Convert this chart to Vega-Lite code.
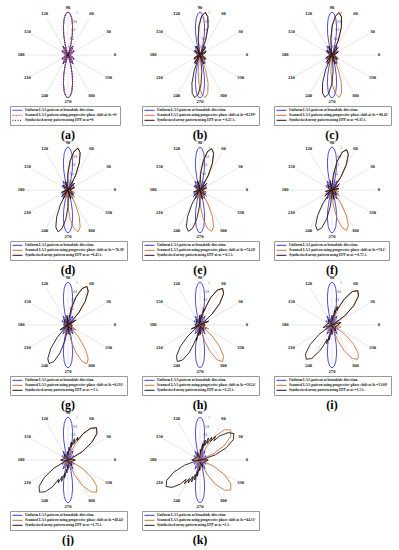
{
"$schema":"https://vega.github.io/schema/vega-lite/v6.json",
"padding":{"left":9,"top":5,"right":0,"bottom":0},
"background":"white",
"columns":3,
"spacing":{"row":-2,"column":13},
"datasets":{
"rings":[{"x":0,"y":0,"r":0.2},{"x":0,"y":0,"r":0.4},{"x":0,"y":0,"r":0.6},{"x":0,"y":0,"r":0.8},{"x":0,"y":0,"r":1}],
"spokes":[{"x":-1,"y":0,"x2":1,"y2":0},{"x":-0.866,"y":-0.5,"x2":0.866,"y2":0.5},{"x":-0.5,"y":-0.866,"x2":0.5,"y2":0.866},{"x":0,"y":-1,"x2":0,"y2":1},{"x":0.5,"y":-0.866,"x2":-0.5,"y2":0.866},{"x":0.866,"y":-0.5,"x2":-0.866,"y2":0.5}],
"angl":[{"t":"0","x":1.09,"y":0},{"t":"30","x":0.944,"y":0.545},{"t":"60","x":0.545,"y":0.944},{"t":"90","x":0,"y":1.09},{"t":"120","x":-0.545,"y":0.944},{"t":"150","x":-0.944,"y":0.545},{"t":"180","x":-1.09,"y":0},{"t":"210","x":-0.944,"y":-0.545},{"t":"240","x":-0.545,"y":-0.944},{"t":"270","x":0,"y":-1.09},{"t":"300","x":0.545,"y":-0.944},{"t":"330","x":0.944,"y":-0.545}],
"rlab":[{"t":"1","x":0.21,"y":0.98},{"t":"0.8","x":0.166,"y":0.782},{"t":"0.6","x":0.125,"y":0.587},{"t":"0.4","x":0.083,"y":0.39},{"t":"0.2","x":0.042,"y":0.196}]
},
"concat":[
{"width":98,"height":98,"title":"(a)",
"encoding":{"x":{"field":"x","type":"quantitative","scale":{"domain":[-1.14,1.14],"nice":false,"zero":false},"axis":null},"y":{"field":"y","type":"quantitative","scale":{"domain":[-1.14,1.14],"nice":false,"zero":false},"axis":null}},
"layer":[
{"data":{"name":"rings"},"mark":{"type":"arc","filled":false,"stroke":"#d6d6d6","strokeWidth":0.6,"theta":0,"theta2":6.2832},"encoding":{"radius":{"field":"r","type":"quantitative","scale":{"type":"linear","domain":[0,1.14],"nice":false,"zero":true}}}},
{"data":{"name":"spokes"},"mark":{"type":"rule","stroke":"#d6d6d6","strokeWidth":0.6},"encoding":{"x2":{"field":"x2"},"y2":{"field":"y2"}}},
{"data":{"name":"rlab"},"mark":{"type":"text","font":"Liberation Serif","fontSize":3,"color":"#333"},"encoding":{"text":{"field":"t"}}},
{"data":{"name":"angl"},"mark":{"type":"text","font":"Liberation Serif","fontSize":4.6,"fontWeight":"bold","color":"#111"},"encoding":{"text":{"field":"t"}}},
{"data":{"values":[
{"s":"Uniform LAA pattern at broadside direction.","a":[0,10,20,30,35,40,48,55,61,66,70.5,72,75,78,81,84,87,90,93,96,99,102,105,108,109.5,114,119,125,132,140,145,150,160,170,180,190,200,210,215,220,228,235,241,246,250.5,252,255,258,261,264,267,270,273,276,279,282,285,288,289.5,294,299,305,312,320,325,330,340,350,360],"r":[0,0.02,0.09,0.16,0.17,0.14,0,0.16,0.24,0.18,0,0.08,0.27,0.48,0.68,0.85,0.96,1,0.96,0.85,0.68,0.48,0.27,0.08,0,0.18,0.24,0.16,0,0.14,0.17,0.16,0.09,0.02,0,0.02,0.09,0.16,0.17,0.14,0,0.16,0.24,0.18,0,0.08,0.27,0.48,0.68,0.85,0.96,1,0.96,0.85,0.68,0.48,0.27,0.08,0,0.18,0.24,0.16,0,0.14,0.17,0.16,0.09,0.02,0]},
{"s":"Scanned LAA pattern using progressive phase shift at θs =0°","a":[0,10,20,30,35,40,48,55,61,66,70.5,72,75,78,81,84,87,90,93,96,99,102,105,108,109.5,114,119,125,132,140,145,150,160,170,180,190,200,210,215,220,228,235,241,246,250.5,252,255,258,261,264,267,270,273,276,279,282,285,288,289.5,294,299,305,312,320,325,330,340,350,360],"r":[0,0.02,0.09,0.16,0.17,0.14,0,0.16,0.24,0.18,0,0.08,0.27,0.48,0.68,0.85,0.96,1,0.96,0.85,0.68,0.48,0.27,0.08,0,0.18,0.24,0.16,0,0.14,0.17,0.16,0.09,0.02,0,0.02,0.09,0.16,0.17,0.14,0,0.16,0.24,0.18,0,0.08,0.27,0.48,0.68,0.85,0.96,1,0.96,0.85,0.68,0.48,0.27,0.08,0,0.18,0.24,0.16,0,0.14,0.17,0.16,0.09,0.02,0]},
{"s":"Synthesized array pattern using EPP at xs=0","a":[0,10,20,30,35,40,48,55,61,66,70.5,72,75,78,81,84,87,90,93,96,99,102,105,108,109.5,114,119,125,132,140,145,150,160,170,180,190,200,210,215,220,228,235,241,246,250.5,252,255,258,261,264,267,270,273,276,279,282,285,288,289.5,294,299,305,312,320,325,330,340,350,360],"r":[0,0.02,0.09,0.16,0.17,0.14,0,0.16,0.24,0.18,0,0.08,0.27,0.48,0.68,0.85,0.96,1,0.96,0.85,0.68,0.48,0.27,0.08,0,0.18,0.24,0.16,0,0.14,0.17,0.16,0.09,0.02,0,0.02,0.09,0.16,0.17,0.14,0,0.16,0.24,0.18,0,0.08,0.27,0.48,0.68,0.85,0.96,1,0.96,0.85,0.68,0.48,0.27,0.08,0,0.18,0.24,0.16,0,0.14,0.17,0.16,0.09,0.02,0]}
]},
"transform":[{"flatten":["a","r"]},{"calculate":"datum.r*cos(datum.a*PI/180)","as":"x"},{"calculate":"datum.r*sin(datum.a*PI/180)","as":"y"}],
"mark":{"type":"line","strokeWidth":0.9},
"encoding":{"order":{"field":"a","type":"quantitative"},
"color":{"field":"s","type":"nominal","scale":{"domain":["Uniform LAA pattern at broadside direction.","Scanned LAA pattern using progressive phase shift at θs =0°","Synthesized array pattern using EPP at xs=0"],"range":["#3838e0","#d0507a","#2a1414"]},"legend":{"title":null}},
"strokeDash":{"field":"s","type":"nominal","scale":{"domain":["Uniform LAA pattern at broadside direction.","Scanned LAA pattern using progressive phase shift at θs =0°","Synthesized array pattern using EPP at xs=0"],"range":[[1,0],[2,1],[1,1.5]]},"legend":{"title":null}}}}
]},
{"width":98,"height":98,"title":"(b)",
"encoding":{"x":{"field":"x","type":"quantitative","scale":{"domain":[-1.14,1.14],"nice":false,"zero":false},"axis":null},"y":{"field":"y","type":"quantitative","scale":{"domain":[-1.14,1.14],"nice":false,"zero":false},"axis":null}},
"layer":[
{"data":{"name":"rings"},"mark":{"type":"arc","filled":false,"stroke":"#d6d6d6","strokeWidth":0.6,"theta":0,"theta2":6.2832},"encoding":{"radius":{"field":"r","type":"quantitative","scale":{"type":"linear","domain":[0,1.14],"nice":false,"zero":true}}}},
{"data":{"name":"spokes"},"mark":{"type":"rule","stroke":"#d6d6d6","strokeWidth":0.6},"encoding":{"x2":{"field":"x2"},"y2":{"field":"y2"}}},
{"data":{"name":"rlab"},"mark":{"type":"text","font":"Liberation Serif","fontSize":3,"color":"#333"},"encoding":{"text":{"field":"t"}}},
{"data":{"name":"angl"},"mark":{"type":"text","font":"Liberation Serif","fontSize":4.6,"fontWeight":"bold","color":"#111"},"encoding":{"text":{"field":"t"}}},
{"data":{"values":[
{"s":"Uniform LAA pattern at broadside direction.","a":[0,10,20,30,35,40,48,55,61,66,70.5,72,75,78,81,84,87,90,93,96,99,102,105,108,109.5,114,119,125,132,140,145,150,160,170,180,190,200,210,215,220,228,235,241,246,250.5,252,255,258,261,264,267,270,273,276,279,282,285,288,289.5,294,299,305,312,320,325,330,340,350,360],"r":[0,0.02,0.09,0.16,0.17,0.14,0,0.16,0.24,0.18,0,0.08,0.27,0.48,0.68,0.85,0.96,1,0.96,0.85,0.68,0.48,0.27,0.08,0,0.18,0.24,0.16,0,0.14,0.17,0.16,0.09,0.02,0,0.02,0.09,0.16,0.17,0.14,0,0.16,0.24,0.18,0,0.08,0.27,0.48,0.68,0.85,0.96,1,0.96,0.85,0.68,0.48,0.27,0.08,0,0.18,0.24,0.16,0,0.14,0.17,0.16,0.09,0.02,0]},
{"s":"Scanned LAA pattern using progressive phase shift at θs =82.99°","a":[0,10,28,42,54,63.5,65,69.5,74,78.5,83,87.5,92,96.5,101,102.5,112,124,138,160,180,200,222,236,248,257.5,259,263.5,268,272.5,277,281.5,286,290.5,295,296.5,306,318,332,350,360],"r":[0.04,0.06,0.16,0.02,0.22,0,0.08,0.38,0.68,0.91,1,0.91,0.68,0.38,0.08,0,0.22,0.02,0.16,0.08,0.04,0.08,0.16,0.02,0.22,0,0.08,0.38,0.68,0.91,1,0.91,0.68,0.38,0.08,0,0.22,0.02,0.16,0.06,0.04]},
{"s":"Synthesized array pattern using EPP at xs = 0.25 λ.","a":[0,10,28,42,54,63.5,65,69.5,74,78.5,83,87.5,92,96.5,101,102.5,112,124,138,160,180,190,208,222,234,243.5,245,249.5,254,258.5,263,267.5,272,276.5,281,282.5,292,304,318,340,360],"r":[0.04,0.06,0.16,0.02,0.22,0,0.08,0.38,0.68,0.91,1,0.91,0.68,0.38,0.08,0,0.22,0.02,0.16,0.08,0.04,0.06,0.16,0.02,0.22,0,0.08,0.38,0.68,0.91,1,0.91,0.68,0.38,0.08,0,0.22,0.02,0.16,0.08,0.04]}
]},
"transform":[{"flatten":["a","r"]},{"calculate":"datum.r*cos(datum.a*PI/180)","as":"x"},{"calculate":"datum.r*sin(datum.a*PI/180)","as":"y"}],
"mark":{"type":"line","strokeWidth":0.9},
"encoding":{"order":{"field":"a","type":"quantitative"},
"color":{"field":"s","type":"nominal","scale":{"domain":["Uniform LAA pattern at broadside direction.","Scanned LAA pattern using progressive phase shift at θs =82.99°","Synthesized array pattern using EPP at xs = 0.25 λ."],"range":["#3838e0","#c8743c","#2a1414"]},"legend":{"title":null}}}}
]},
{"width":98,"height":98,"title":"(c)",
"encoding":{"x":{"field":"x","type":"quantitative","scale":{"domain":[-1.14,1.14],"nice":false,"zero":false},"axis":null},"y":{"field":"y","type":"quantitative","scale":{"domain":[-1.14,1.14],"nice":false,"zero":false},"axis":null}},
"layer":[
{"data":{"name":"rings"},"mark":{"type":"arc","filled":false,"stroke":"#d6d6d6","strokeWidth":0.6,"theta":0,"theta2":6.2832},"encoding":{"radius":{"field":"r","type":"quantitative","scale":{"type":"linear","domain":[0,1.14],"nice":false,"zero":true}}}},
{"data":{"name":"spokes"},"mark":{"type":"rule","stroke":"#d6d6d6","strokeWidth":0.6},"encoding":{"x2":{"field":"x2"},"y2":{"field":"y2"}}},
{"data":{"name":"rlab"},"mark":{"type":"text","font":"Liberation Serif","fontSize":3,"color":"#333"},"encoding":{"text":{"field":"t"}}},
{"data":{"name":"angl"},"mark":{"type":"text","font":"Liberation Serif","fontSize":4.6,"fontWeight":"bold","color":"#111"},"encoding":{"text":{"field":"t"}}},
{"data":{"values":[
{"s":"Uniform LAA pattern at broadside direction.","a":[0,10,20,30,35,40,48,55,61,66,70.5,72,75,78,81,84,87,90,93,96,99,102,105,108,109.5,114,119,125,132,140,145,150,160,170,180,190,200,210,215,220,228,235,241,246,250.5,252,255,258,261,264,267,270,273,276,279,282,285,288,289.5,294,299,305,312,320,325,330,340,350,360],"r":[0,0.02,0.09,0.16,0.17,0.14,0,0.16,0.24,0.18,0,0.08,0.27,0.48,0.68,0.85,0.96,1,0.96,0.85,0.68,0.48,0.27,0.08,0,0.18,0.24,0.16,0,0.14,0.17,0.16,0.09,0.02,0,0.02,0.09,0.16,0.17,0.14,0,0.16,0.24,0.18,0,0.08,0.27,0.48,0.68,0.85,0.96,1,0.96,0.85,0.68,0.48,0.27,0.08,0,0.18,0.24,0.16,0,0.14,0.17,0.16,0.09,0.02,0]},
{"s":"Scanned LAA pattern using progressive phase shift at θs = 80.41°","a":[0,8,24.8,39,51.1,60.7,62.2,66.8,71.3,75.9,80.4,84.9,89.5,94,98.6,100.1,109.7,121.8,136,160,180,200,224,238.2,250.3,259.9,261.4,266,270.5,275.1,279.6,284.1,288.7,293.2,297.8,299.3,308.9,321,335.2,352,360],"r":[0.04,0.06,0.16,0.02,0.22,0,0.08,0.38,0.68,0.91,1,0.91,0.68,0.38,0.08,0,0.22,0.02,0.16,0.08,0.04,0.08,0.16,0.02,0.22,0,0.08,0.38,0.68,0.91,1,0.91,0.68,0.38,0.08,0,0.22,0.02,0.16,0.06,0.04]},
{"s":"Synthesized array pattern using EPP at xs =0.35 λ.","a":[0,8,24.8,39,51.1,60.7,62.2,66.8,71.3,75.9,80.4,84.9,89.5,94,98.6,100.1,109.7,121.8,136,160,180,188,204.8,219,231.1,240.7,242.2,246.8,251.3,255.9,260.4,264.9,269.5,274,278.6,280.1,289.7,301.8,316,340,360],"r":[0.04,0.06,0.16,0.02,0.22,0,0.08,0.38,0.68,0.91,1,0.91,0.68,0.38,0.08,0,0.22,0.02,0.16,0.08,0.04,0.06,0.16,0.02,0.22,0,0.08,0.38,0.68,0.91,1,0.91,0.68,0.38,0.08,0,0.22,0.02,0.16,0.08,0.04]}
]},
"transform":[{"flatten":["a","r"]},{"calculate":"datum.r*cos(datum.a*PI/180)","as":"x"},{"calculate":"datum.r*sin(datum.a*PI/180)","as":"y"}],
"mark":{"type":"line","strokeWidth":0.9},
"encoding":{"order":{"field":"a","type":"quantitative"},
"color":{"field":"s","type":"nominal","scale":{"domain":["Uniform LAA pattern at broadside direction.","Scanned LAA pattern using progressive phase shift at θs = 80.41°","Synthesized array pattern using EPP at xs =0.35 λ."],"range":["#3838e0","#c8743c","#2a1414"]},"legend":{"title":null}}}}
]},
{"width":98,"height":98,"title":"(d)",
"encoding":{"x":{"field":"x","type":"quantitative","scale":{"domain":[-1.14,1.14],"nice":false,"zero":false},"axis":null},"y":{"field":"y","type":"quantitative","scale":{"domain":[-1.14,1.14],"nice":false,"zero":false},"axis":null}},
"layer":[
{"data":{"name":"rings"},"mark":{"type":"arc","filled":false,"stroke":"#d6d6d6","strokeWidth":0.6,"theta":0,"theta2":6.2832},"encoding":{"radius":{"field":"r","type":"quantitative","scale":{"type":"linear","domain":[0,1.14],"nice":false,"zero":true}}}},
{"data":{"name":"spokes"},"mark":{"type":"rule","stroke":"#d6d6d6","strokeWidth":0.6},"encoding":{"x2":{"field":"x2"},"y2":{"field":"y2"}}},
{"data":{"name":"rlab"},"mark":{"type":"text","font":"Liberation Serif","fontSize":3,"color":"#333"},"encoding":{"text":{"field":"t"}}},
{"data":{"name":"angl"},"mark":{"type":"text","font":"Liberation Serif","fontSize":4.6,"fontWeight":"bold","color":"#111"},"encoding":{"text":{"field":"t"}}},
{"data":{"values":[
{"s":"Uniform LAA pattern at broadside direction.","a":[0,10,20,30,35,40,48,55,61,66,70.5,72,75,78,81,84,87,90,93,96,99,102,105,108,109.5,114,119,125,132,140,145,150,160,170,180,190,200,210,215,220,228,235,241,246,250.5,252,255,258,261,264,267,270,273,276,279,282,285,288,289.5,294,299,305,312,320,325,330,340,350,360],"r":[0,0.02,0.09,0.16,0.17,0.14,0,0.16,0.24,0.18,0,0.08,0.27,0.48,0.68,0.85,0.96,1,0.96,0.85,0.68,0.48,0.27,0.08,0,0.18,0.24,0.16,0,0.14,0.17,0.16,0.09,0.02,0,0.02,0.09,0.16,0.17,0.14,0,0.16,0.24,0.18,0,0.08,0.27,0.48,0.68,0.85,0.96,1,0.96,0.85,0.68,0.48,0.27,0.08,0,0.18,0.24,0.16,0,0.14,0.17,0.16,0.09,0.02,0]},
{"s":"Scanned LAA pattern using progressive phase shift at θs = 76.38°","a":[0,6,19.8,34.3,46.6,56.4,58,62.6,67.2,71.9,76.5,81.1,85.8,90.4,95,96.6,106.4,118.7,133.2,160,180,200,226.8,241.3,253.6,263.4,265,269.6,274.2,278.9,283.5,288.1,292.8,297.4,302,303.6,313.4,325.7,340.2,354,360],"r":[0.04,0.06,0.16,0.02,0.22,0,0.08,0.38,0.68,0.91,1,0.91,0.68,0.38,0.08,0,0.22,0.02,0.16,0.08,0.04,0.08,0.16,0.02,0.22,0,0.08,0.38,0.68,0.91,1,0.91,0.68,0.38,0.08,0,0.22,0.02,0.16,0.06,0.04]},
{"s":"Synthesized array pattern using EPP at xs =0.45 λ.","a":[0,6,19.8,34.3,46.6,56.4,58,62.6,67.2,71.9,76.5,81.1,85.8,90.4,95,96.6,106.4,118.7,133.2,160,180,186,199.8,214.3,226.6,236.4,238,242.6,247.2,251.9,256.5,261.1,265.8,270.4,275,276.6,286.4,298.7,313.2,340,360],"r":[0.04,0.06,0.16,0.02,0.22,0,0.08,0.38,0.68,0.91,1,0.91,0.68,0.38,0.08,0,0.22,0.02,0.16,0.08,0.04,0.06,0.16,0.02,0.22,0,0.08,0.38,0.68,0.91,1,0.91,0.68,0.38,0.08,0,0.22,0.02,0.16,0.08,0.04]}
]},
"transform":[{"flatten":["a","r"]},{"calculate":"datum.r*cos(datum.a*PI/180)","as":"x"},{"calculate":"datum.r*sin(datum.a*PI/180)","as":"y"}],
"mark":{"type":"line","strokeWidth":0.9},
"encoding":{"order":{"field":"a","type":"quantitative"},
"color":{"field":"s","type":"nominal","scale":{"domain":["Uniform LAA pattern at broadside direction.","Scanned LAA pattern using progressive phase shift at θs = 76.38°","Synthesized array pattern using EPP at xs =0.45 λ."],"range":["#3838e0","#c8743c","#2a1414"]},"legend":{"title":null}}}}
]},
{"width":98,"height":98,"title":"(e)",
"encoding":{"x":{"field":"x","type":"quantitative","scale":{"domain":[-1.14,1.14],"nice":false,"zero":false},"axis":null},"y":{"field":"y","type":"quantitative","scale":{"domain":[-1.14,1.14],"nice":false,"zero":false},"axis":null}},
"layer":[
{"data":{"name":"rings"},"mark":{"type":"arc","filled":false,"stroke":"#d6d6d6","strokeWidth":0.6,"theta":0,"theta2":6.2832},"encoding":{"radius":{"field":"r","type":"quantitative","scale":{"type":"linear","domain":[0,1.14],"nice":false,"zero":true}}}},
{"data":{"name":"spokes"},"mark":{"type":"rule","stroke":"#d6d6d6","strokeWidth":0.6},"encoding":{"x2":{"field":"x2"},"y2":{"field":"y2"}}},
{"data":{"name":"rlab"},"mark":{"type":"text","font":"Liberation Serif","fontSize":3,"color":"#333"},"encoding":{"text":{"field":"t"}}},
{"data":{"name":"angl"},"mark":{"type":"text","font":"Liberation Serif","fontSize":4.6,"fontWeight":"bold","color":"#111"},"encoding":{"text":{"field":"t"}}},
{"data":{"values":[
{"s":"Uniform LAA pattern at broadside direction.","a":[0,10,20,30,35,40,48,55,61,66,70.5,72,75,78,81,84,87,90,93,96,99,102,105,108,109.5,114,119,125,132,140,145,150,160,170,180,190,200,210,215,220,228,235,241,246,250.5,252,255,258,261,264,267,270,273,276,279,282,285,288,289.5,294,299,305,312,320,325,330,340,350,360],"r":[0,0.02,0.09,0.16,0.17,0.14,0,0.16,0.24,0.18,0,0.08,0.27,0.48,0.68,0.85,0.96,1,0.96,0.85,0.68,0.48,0.27,0.08,0,0.18,0.24,0.16,0,0.14,0.17,0.16,0.09,0.02,0,0.02,0.09,0.16,0.17,0.14,0,0.16,0.24,0.18,0,0.08,0.27,0.48,0.68,0.85,0.96,1,0.96,0.85,0.68,0.48,0.27,0.08,0,0.18,0.24,0.16,0,0.14,0.17,0.16,0.09,0.02,0]},
{"s":"Scanned LAA pattern using progressive phase shift at θs =74.28°","a":[0,5,17.1,31.7,44.1,54,55.6,60.3,64.9,69.6,74.3,79,83.7,88.3,93,94.6,104.5,116.9,131.5,160,180,200,228.5,243.1,255.5,265.4,267,271.7,276.3,281,285.7,290.4,295.1,299.7,304.4,306,315.9,328.3,342.9,355,360],"r":[0.04,0.06,0.16,0.02,0.22,0,0.08,0.38,0.68,0.91,1,0.91,0.68,0.38,0.08,0,0.22,0.02,0.16,0.08,0.04,0.08,0.16,0.02,0.22,0,0.08,0.38,0.68,0.91,1,0.91,0.68,0.38,0.08,0,0.22,0.02,0.16,0.06,0.04]},
{"s":"Synthesized array pattern using EPP at xs = 0.5 λ.","a":[0,5,17.1,31.7,44.1,54,55.6,60.3,64.9,69.6,74.3,79,83.7,88.3,93,94.6,104.5,116.9,131.5,160,180,185,197.1,211.7,224.1,234,235.6,240.3,244.9,249.6,254.3,259,263.7,268.3,273,274.6,284.5,296.9,311.5,340,360],"r":[0.04,0.06,0.16,0.02,0.22,0,0.08,0.38,0.68,0.91,1,0.91,0.68,0.38,0.08,0,0.22,0.02,0.16,0.08,0.04,0.06,0.16,0.02,0.22,0,0.08,0.38,0.68,0.91,1,0.91,0.68,0.38,0.08,0,0.22,0.02,0.16,0.08,0.04]}
]},
"transform":[{"flatten":["a","r"]},{"calculate":"datum.r*cos(datum.a*PI/180)","as":"x"},{"calculate":"datum.r*sin(datum.a*PI/180)","as":"y"}],
"mark":{"type":"line","strokeWidth":0.9},
"encoding":{"order":{"field":"a","type":"quantitative"},
"color":{"field":"s","type":"nominal","scale":{"domain":["Uniform LAA pattern at broadside direction.","Scanned LAA pattern using progressive phase shift at θs =74.28°","Synthesized array pattern using EPP at xs = 0.5 λ."],"range":["#3838e0","#c8743c","#2a1414"]},"legend":{"title":null}}}}
]},
{"width":98,"height":98,"title":"(f)",
"encoding":{"x":{"field":"x","type":"quantitative","scale":{"domain":[-1.14,1.14],"nice":false,"zero":false},"axis":null},"y":{"field":"y","type":"quantitative","scale":{"domain":[-1.14,1.14],"nice":false,"zero":false},"axis":null}},
"layer":[
{"data":{"name":"rings"},"mark":{"type":"arc","filled":false,"stroke":"#d6d6d6","strokeWidth":0.6,"theta":0,"theta2":6.2832},"encoding":{"radius":{"field":"r","type":"quantitative","scale":{"type":"linear","domain":[0,1.14],"nice":false,"zero":true}}}},
{"data":{"name":"spokes"},"mark":{"type":"rule","stroke":"#d6d6d6","strokeWidth":0.6},"encoding":{"x2":{"field":"x2"},"y2":{"field":"y2"}}},
{"data":{"name":"rlab"},"mark":{"type":"text","font":"Liberation Serif","fontSize":3,"color":"#333"},"encoding":{"text":{"field":"t"}}},
{"data":{"name":"angl"},"mark":{"type":"text","font":"Liberation Serif","fontSize":4.6,"fontWeight":"bold","color":"#111"},"encoding":{"text":{"field":"t"}}},
{"data":{"values":[
{"s":"Uniform LAA pattern at broadside direction.","a":[0,10,20,30,35,40,48,55,61,66,70.5,72,75,78,81,84,87,90,93,96,99,102,105,108,109.5,114,119,125,132,140,145,150,160,170,180,190,200,210,215,220,228,235,241,246,250.5,252,255,258,261,264,267,270,273,276,279,282,285,288,289.5,294,299,305,312,320,325,330,340,350,360],"r":[0,0.02,0.09,0.16,0.17,0.14,0,0.16,0.24,0.18,0,0.08,0.27,0.48,0.68,0.85,0.96,1,0.96,0.85,0.68,0.48,0.27,0.08,0,0.18,0.24,0.16,0,0.14,0.17,0.16,0.09,0.02,0,0.02,0.09,0.16,0.17,0.14,0,0.16,0.24,0.18,0,0.08,0.27,0.48,0.68,0.85,0.96,1,0.96,0.85,0.68,0.48,0.27,0.08,0,0.18,0.24,0.16,0,0.14,0.17,0.16,0.09,0.02,0]},
{"s":"Scanned LAA pattern using progressive phase shift at θs =70.1°","a":[0,11.8,26.6,39.4,49.4,51,55.8,60.6,65.3,70.1,74.9,79.6,84.4,89.2,90.8,100.8,113.6,128.4,155,180,205,231.6,246.4,259.2,269.2,270.8,275.6,280.4,285.1,289.9,294.7,299.4,304.2,309,310.6,320.6,333.4,348.2,360],"r":[0.04,0.16,0.02,0.22,0,0.08,0.38,0.68,0.91,1,0.91,0.68,0.38,0.08,0,0.22,0.02,0.16,0.08,0.04,0.08,0.16,0.02,0.22,0,0.08,0.38,0.68,0.91,1,0.91,0.68,0.38,0.08,0,0.22,0.02,0.16,0.04]},
{"s":"Synthesized array pattern using EPP at xs = 0.75 λ.","a":[0,11.8,26.6,39.4,49.4,51,55.8,60.6,65.3,70.1,74.9,79.6,84.4,89.2,90.8,100.8,113.6,128.4,155,180,191.8,206.6,219.4,229.4,231,235.8,240.6,245.3,250.1,254.9,259.6,264.4,269.2,270.8,280.8,293.6,308.4,335,360],"r":[0.04,0.16,0.02,0.22,0,0.08,0.38,0.68,0.91,1,0.91,0.68,0.38,0.08,0,0.22,0.02,0.16,0.08,0.04,0.16,0.02,0.22,0,0.08,0.38,0.68,0.91,1,0.91,0.68,0.38,0.08,0,0.22,0.02,0.16,0.08,0.04]}
]},
"transform":[{"flatten":["a","r"]},{"calculate":"datum.r*cos(datum.a*PI/180)","as":"x"},{"calculate":"datum.r*sin(datum.a*PI/180)","as":"y"}],
"mark":{"type":"line","strokeWidth":0.9},
"encoding":{"order":{"field":"a","type":"quantitative"},
"color":{"field":"s","type":"nominal","scale":{"domain":["Uniform LAA pattern at broadside direction.","Scanned LAA pattern using progressive phase shift at θs =70.1°","Synthesized array pattern using EPP at xs = 0.75 λ."],"range":["#3838e0","#c8743c","#2a1414"]},"legend":{"title":null}}}}
]},
{"width":98,"height":98,"title":"(g)",
"encoding":{"x":{"field":"x","type":"quantitative","scale":{"domain":[-1.14,1.14],"nice":false,"zero":false},"axis":null},"y":{"field":"y","type":"quantitative","scale":{"domain":[-1.14,1.14],"nice":false,"zero":false},"axis":null}},
"layer":[
{"data":{"name":"rings"},"mark":{"type":"arc","filled":false,"stroke":"#d6d6d6","strokeWidth":0.6,"theta":0,"theta2":6.2832},"encoding":{"radius":{"field":"r","type":"quantitative","scale":{"type":"linear","domain":[0,1.14],"nice":false,"zero":true}}}},
{"data":{"name":"spokes"},"mark":{"type":"rule","stroke":"#d6d6d6","strokeWidth":0.6},"encoding":{"x2":{"field":"x2"},"y2":{"field":"y2"}}},
{"data":{"name":"rlab"},"mark":{"type":"text","font":"Liberation Serif","fontSize":3,"color":"#333"},"encoding":{"text":{"field":"t"}}},
{"data":{"name":"angl"},"mark":{"type":"text","font":"Liberation Serif","fontSize":4.6,"fontWeight":"bold","color":"#111"},"encoding":{"text":{"field":"t"}}},
{"data":{"values":[
{"s":"Uniform LAA pattern at broadside direction.","a":[0,10,20,30,35,40,48,55,61,66,70.5,72,75,78,81,84,87,90,93,96,99,102,105,108,109.5,114,119,125,132,140,145,150,160,170,180,190,200,210,215,220,228,235,241,246,250.5,252,255,258,261,264,267,270,273,276,279,282,285,288,289.5,294,299,305,312,320,325,330,340,350,360],"r":[0,0.02,0.09,0.16,0.17,0.14,0,0.16,0.24,0.18,0,0.08,0.27,0.48,0.68,0.85,0.96,1,0.96,0.85,0.68,0.48,0.27,0.08,0,0.18,0.24,0.16,0,0.14,0.17,0.16,0.09,0.02,0,0.02,0.09,0.16,0.17,0.14,0,0.16,0.24,0.18,0,0.08,0.27,0.48,0.68,0.85,0.96,1,0.96,0.85,0.68,0.48,0.27,0.08,0,0.18,0.24,0.16,0,0.14,0.17,0.16,0.09,0.02,0]},
{"s":"Scanned LAA pattern using progressive phase shift at θs =63.91°","a":[0,18.4,31.7,42.3,43.9,48.9,53.9,58.9,63.9,68.9,73.9,78.9,83.9,85.5,96.1,109.4,124.9,150,180,210,235.1,250.6,263.9,274.5,276.1,281.1,286.1,291.1,296.1,301.1,306.1,311.1,316.1,317.7,328.3,341.6,360],"r":[0.1,0.02,0.22,0,0.08,0.38,0.68,0.91,1,0.91,0.68,0.38,0.08,0,0.22,0.02,0.16,0.08,0.1,0.08,0.16,0.02,0.22,0,0.08,0.38,0.68,0.91,1,0.91,0.68,0.38,0.08,0,0.22,0.02,0.1]},
{"s":"Synthesized array pattern using EPP at xs = 1 λ.","a":[0,18.4,31.7,42.3,43.9,48.9,53.9,58.9,63.9,68.9,73.9,78.9,83.9,85.5,96.1,109.4,124.9,150,180,198.4,211.7,222.3,223.9,228.9,233.9,238.9,243.9,248.9,253.9,258.9,263.9,265.5,276.1,289.4,304.9,330,360],"r":[0.1,0.02,0.22,0,0.08,0.38,0.68,0.91,1,0.91,0.68,0.38,0.08,0,0.22,0.02,0.16,0.08,0.1,0.02,0.22,0,0.08,0.38,0.68,0.91,1,0.91,0.68,0.38,0.08,0,0.22,0.02,0.16,0.08,0.1]}
]},
"transform":[{"flatten":["a","r"]},{"calculate":"datum.r*cos(datum.a*PI/180)","as":"x"},{"calculate":"datum.r*sin(datum.a*PI/180)","as":"y"}],
"mark":{"type":"line","strokeWidth":0.9},
"encoding":{"order":{"field":"a","type":"quantitative"},
"color":{"field":"s","type":"nominal","scale":{"domain":["Uniform LAA pattern at broadside direction.","Scanned LAA pattern using progressive phase shift at θs =63.91°","Synthesized array pattern using EPP at xs = 1 λ."],"range":["#3838e0","#c8743c","#2a1414"]},"legend":{"title":null}}}}
]},
{"width":98,"height":98,"title":"(h)",
"encoding":{"x":{"field":"x","type":"quantitative","scale":{"domain":[-1.14,1.14],"nice":false,"zero":false},"axis":null},"y":{"field":"y","type":"quantitative","scale":{"domain":[-1.14,1.14],"nice":false,"zero":false},"axis":null}},
"layer":[
{"data":{"name":"rings"},"mark":{"type":"arc","filled":false,"stroke":"#d6d6d6","strokeWidth":0.6,"theta":0,"theta2":6.2832},"encoding":{"radius":{"field":"r","type":"quantitative","scale":{"type":"linear","domain":[0,1.14],"nice":false,"zero":true}}}},
{"data":{"name":"spokes"},"mark":{"type":"rule","stroke":"#d6d6d6","strokeWidth":0.6},"encoding":{"x2":{"field":"x2"},"y2":{"field":"y2"}}},
{"data":{"name":"rlab"},"mark":{"type":"text","font":"Liberation Serif","fontSize":3,"color":"#333"},"encoding":{"text":{"field":"t"}}},
{"data":{"name":"angl"},"mark":{"type":"text","font":"Liberation Serif","fontSize":4.6,"fontWeight":"bold","color":"#111"},"encoding":{"text":{"field":"t"}}},
{"data":{"values":[
{"s":"Uniform LAA pattern at broadside direction.","a":[0,10,20,30,35,40,48,55,61,66,70.5,72,75,78,81,84,87,90,93,96,99,102,105,108,109.5,114,119,125,132,140,145,150,160,170,180,190,200,210,215,220,228,235,241,246,250.5,252,255,258,261,264,267,270,273,276,279,282,285,288,289.5,294,299,305,312,320,325,330,340,350,360],"r":[0,0.02,0.09,0.16,0.17,0.14,0,0.16,0.24,0.18,0,0.08,0.27,0.48,0.68,0.85,0.96,1,0.96,0.85,0.68,0.48,0.27,0.08,0,0.18,0.24,0.16,0,0.14,0.17,0.16,0.09,0.02,0,0.02,0.09,0.16,0.17,0.14,0,0.16,0.24,0.18,0,0.08,0.27,0.48,0.68,0.85,0.96,1,0.96,0.85,0.68,0.48,0.27,0.08,0,0.18,0.24,0.16,0,0.14,0.17,0.16,0.09,0.02,0]},
{"s":"Scanned LAA pattern using progressive phase shift at θs =58.24°","a":[0,9.8,24,35.2,37,42.3,47.6,52.9,58.2,63.5,68.8,74.1,79.4,81.2,92.4,106.6,123.1,150,180,210,236.9,253.4,267.6,278.8,280.6,285.9,291.2,296.5,301.8,307.1,312.4,317.7,323,324.8,336,350.2,360],"r":[0.12,0.02,0.22,0,0.08,0.38,0.68,0.91,1,0.91,0.68,0.38,0.08,0,0.22,0.02,0.16,0.08,0.12,0.08,0.16,0.02,0.22,0,0.08,0.38,0.68,0.91,1,0.91,0.68,0.38,0.08,0,0.22,0.02,0.12]},
{"s":"Synthesized array pattern using EPP at xs =1.25 λ.","a":[0,9.8,24,35.2,37,42.3,47.6,52.9,58.2,63.5,68.8,72,75,77.5,80,83,86,92.4,106.6,123.1,150,180,189.8,204,215.2,217,222.3,227.6,232.9,238.2,243.5,248.8,252,255,257.5,260,263,266,272.4,286.6,303.1,330,360],"r":[0.12,0.02,0.22,0,0.08,0.38,0.68,0.91,1,0.91,0.68,0.45,0.3,0.38,0.15,0.25,0.05,0.22,0.02,0.16,0.08,0.12,0.02,0.22,0,0.08,0.38,0.68,0.91,1,0.91,0.68,0.45,0.3,0.38,0.15,0.25,0.05,0.22,0.02,0.16,0.08,0.12]}
]},
"transform":[{"flatten":["a","r"]},{"calculate":"datum.r*cos(datum.a*PI/180)","as":"x"},{"calculate":"datum.r*sin(datum.a*PI/180)","as":"y"}],
"mark":{"type":"line","strokeWidth":0.9},
"encoding":{"order":{"field":"a","type":"quantitative"},
"color":{"field":"s","type":"nominal","scale":{"domain":["Uniform LAA pattern at broadside direction.","Scanned LAA pattern using progressive phase shift at θs =58.24°","Synthesized array pattern using EPP at xs =1.25 λ."],"range":["#3838e0","#c8743c","#2a1414"]},"legend":{"title":null}}}}
]},
{"width":98,"height":98,"title":"(i)",
"encoding":{"x":{"field":"x","type":"quantitative","scale":{"domain":[-1.14,1.14],"nice":false,"zero":false},"axis":null},"y":{"field":"y","type":"quantitative","scale":{"domain":[-1.14,1.14],"nice":false,"zero":false},"axis":null}},
"layer":[
{"data":{"name":"rings"},"mark":{"type":"arc","filled":false,"stroke":"#d6d6d6","strokeWidth":0.6,"theta":0,"theta2":6.2832},"encoding":{"radius":{"field":"r","type":"quantitative","scale":{"type":"linear","domain":[0,1.14],"nice":false,"zero":true}}}},
{"data":{"name":"spokes"},"mark":{"type":"rule","stroke":"#d6d6d6","strokeWidth":0.6},"encoding":{"x2":{"field":"x2"},"y2":{"field":"y2"}}},
{"data":{"name":"rlab"},"mark":{"type":"text","font":"Liberation Serif","fontSize":3,"color":"#333"},"encoding":{"text":{"field":"t"}}},
{"data":{"name":"angl"},"mark":{"type":"text","font":"Liberation Serif","fontSize":4.6,"fontWeight":"bold","color":"#111"},"encoding":{"text":{"field":"t"}}},
{"data":{"values":[
{"s":"Uniform LAA pattern at broadside direction.","a":[0,10,20,30,35,40,48,55,61,66,70.5,72,75,78,81,84,87,90,93,96,99,102,105,108,109.5,114,119,125,132,140,145,150,160,170,180,190,200,210,215,220,228,235,241,246,250.5,252,255,258,261,264,267,270,273,276,279,282,285,288,289.5,294,299,305,312,320,325,330,340,350,360],"r":[0,0.02,0.09,0.16,0.17,0.14,0,0.16,0.24,0.18,0,0.08,0.27,0.48,0.68,0.85,0.96,1,0.96,0.85,0.68,0.48,0.27,0.08,0,0.18,0.24,0.16,0,0.14,0.17,0.16,0.09,0.02,0,0.02,0.09,0.16,0.17,0.14,0,0.16,0.24,0.18,0,0.08,0.27,0.48,0.68,0.85,0.96,1,0.96,0.85,0.68,0.48,0.27,0.08,0,0.18,0.24,0.16,0,0.14,0.17,0.16,0.09,0.02,0]},
{"s":"Scanned LAA pattern using progressive phase shift at θs =53.08°","a":[0,16.8,28.7,30.6,36.2,41.8,47.5,53.1,58.7,64.4,70,75.6,77.5,89.4,104.4,121.9,150,180,210,238.1,255.6,270.6,282.5,284.4,290,295.6,301.3,306.9,312.5,318.2,323.8,329.4,331.3,343.2,360],"r":[0.14,0.22,0,0.08,0.38,0.68,0.91,1,0.91,0.68,0.38,0.08,0,0.22,0.02,0.16,0.08,0.14,0.08,0.16,0.02,0.22,0,0.08,0.38,0.68,0.91,1,0.91,0.68,0.38,0.08,0,0.22,0.14]},
{"s":"Synthesized array pattern using EPP at xs =1.5 λ.","a":[0,16.8,28.7,30.6,36.2,41.8,47.5,53.1,58.7,64.4,68,71,74,77,80,83,89.4,104.4,121.9,150,180,196.8,208.7,210.6,216.2,221.8,227.5,233.1,238.7,244.4,248,251,254,257,260,263,269.4,284.4,301.9,330,360],"r":[0.14,0.22,0,0.08,0.38,0.68,0.91,1,0.91,0.68,0.5,0.35,0.45,0.25,0.35,0.1,0.22,0.02,0.16,0.08,0.14,0.22,0,0.08,0.38,0.68,0.91,1,0.91,0.68,0.5,0.35,0.45,0.25,0.35,0.1,0.22,0.02,0.16,0.08,0.14]}
]},
"transform":[{"flatten":["a","r"]},{"calculate":"datum.r*cos(datum.a*PI/180)","as":"x"},{"calculate":"datum.r*sin(datum.a*PI/180)","as":"y"}],
"mark":{"type":"line","strokeWidth":0.9},
"encoding":{"order":{"field":"a","type":"quantitative"},
"color":{"field":"s","type":"nominal","scale":{"domain":["Uniform LAA pattern at broadside direction.","Scanned LAA pattern using progressive phase shift at θs =53.08°","Synthesized array pattern using EPP at xs =1.5 λ."],"range":["#3838e0","#c8743c","#2a1414"]},"legend":{"title":null}}}}
]},
{"width":98,"height":98,"title":"(j)",
"encoding":{"x":{"field":"x","type":"quantitative","scale":{"domain":[-1.14,1.14],"nice":false,"zero":false},"axis":null},"y":{"field":"y","type":"quantitative","scale":{"domain":[-1.14,1.14],"nice":false,"zero":false},"axis":null}},
"layer":[
{"data":{"name":"rings"},"mark":{"type":"arc","filled":false,"stroke":"#d6d6d6","strokeWidth":0.6,"theta":0,"theta2":6.2832},"encoding":{"radius":{"field":"r","type":"quantitative","scale":{"type":"linear","domain":[0,1.14],"nice":false,"zero":true}}}},
{"data":{"name":"spokes"},"mark":{"type":"rule","stroke":"#d6d6d6","strokeWidth":0.6},"encoding":{"x2":{"field":"x2"},"y2":{"field":"y2"}}},
{"data":{"name":"rlab"},"mark":{"type":"text","font":"Liberation Serif","fontSize":3,"color":"#333"},"encoding":{"text":{"field":"t"}}},
{"data":{"name":"angl"},"mark":{"type":"text","font":"Liberation Serif","fontSize":4.6,"fontWeight":"bold","color":"#111"},"encoding":{"text":{"field":"t"}}},
{"data":{"values":[
{"s":"Uniform LAA pattern at broadside direction.","a":[0,10,20,30,35,40,48,55,61,66,70.5,72,75,78,81,84,87,90,93,96,99,102,105,108,109.5,114,119,125,132,140,145,150,160,170,180,190,200,210,215,220,228,235,241,246,250.5,252,255,258,261,264,267,270,273,276,279,282,285,288,289.5,294,299,305,312,320,325,330,340,350,360],"r":[0,0.02,0.09,0.16,0.17,0.14,0,0.16,0.24,0.18,0,0.08,0.27,0.48,0.68,0.85,0.96,1,0.96,0.85,0.68,0.48,0.27,0.08,0,0.18,0.24,0.16,0,0.14,0.17,0.16,0.09,0.02,0,0.02,0.09,0.16,0.17,0.14,0,0.16,0.24,0.18,0,0.08,0.27,0.48,0.68,0.85,0.96,1,0.96,0.85,0.68,0.48,0.27,0.08,0,0.18,0.24,0.16,0,0.14,0.17,0.16,0.09,0.02,0]},
{"s":"Scanned LAA pattern using progressive phase shift at θs =48.44°","a":[0,11,22.3,24.3,30.3,36.3,42.4,48.4,54.4,60.5,66.5,72.5,74.5,87.3,103.3,122.1,150,180,210,237.9,256.7,272.7,285.5,287.5,293.5,299.5,305.6,311.6,317.6,323.7,329.7,335.7,337.7,349,360],"r":[0.17,0.1,0,0.08,0.38,0.68,0.91,1,0.91,0.68,0.38,0.08,0,0.22,0.02,0.16,0.08,0.17,0.08,0.16,0.02,0.22,0,0.08,0.38,0.68,0.91,1,0.91,0.68,0.38,0.08,0,0.1,0.17]},
{"s":"Synthesized array pattern using EPP at xs =1.75 λ.","a":[0,11,22.3,24.3,30.3,36.3,42.4,48.4,54.4,60.5,64,67,70,73,76,79,82,85,88,92,103.3,122.1,150,180,191,202.3,204.3,210.3,216.3,222.4,228.4,234.4,240.5,244,247,250,253,256,259,262,265,268,272,283.3,302.1,330,360],"r":[0.17,0.1,0,0.08,0.38,0.68,0.91,1,0.91,0.7,0.5,0.58,0.4,0.52,0.32,0.42,0.22,0.3,0.12,0.2,0.02,0.16,0.08,0.17,0.1,0,0.08,0.38,0.68,0.91,1,0.91,0.7,0.5,0.58,0.4,0.52,0.32,0.42,0.22,0.3,0.12,0.2,0.02,0.16,0.08,0.17]}
]},
"transform":[{"flatten":["a","r"]},{"calculate":"datum.r*cos(datum.a*PI/180)","as":"x"},{"calculate":"datum.r*sin(datum.a*PI/180)","as":"y"}],
"mark":{"type":"line","strokeWidth":0.9},
"encoding":{"order":{"field":"a","type":"quantitative"},
"color":{"field":"s","type":"nominal","scale":{"domain":["Uniform LAA pattern at broadside direction.","Scanned LAA pattern using progressive phase shift at θs =48.44°","Synthesized array pattern using EPP at xs =1.75 λ."],"range":["#3838e0","#c8743c","#2a1414"]},"legend":{"title":null}}}}
]},
{"width":98,"height":98,"title":"(k)",
"encoding":{"x":{"field":"x","type":"quantitative","scale":{"domain":[-1.14,1.14],"nice":false,"zero":false},"axis":null},"y":{"field":"y","type":"quantitative","scale":{"domain":[-1.14,1.14],"nice":false,"zero":false},"axis":null}},
"layer":[
{"data":{"name":"rings"},"mark":{"type":"arc","filled":false,"stroke":"#d6d6d6","strokeWidth":0.6,"theta":0,"theta2":6.2832},"encoding":{"radius":{"field":"r","type":"quantitative","scale":{"type":"linear","domain":[0,1.14],"nice":false,"zero":true}}}},
{"data":{"name":"spokes"},"mark":{"type":"rule","stroke":"#d6d6d6","strokeWidth":0.6},"encoding":{"x2":{"field":"x2"},"y2":{"field":"y2"}}},
{"data":{"name":"rlab"},"mark":{"type":"text","font":"Liberation Serif","fontSize":3,"color":"#333"},"encoding":{"text":{"field":"t"}}},
{"data":{"name":"angl"},"mark":{"type":"text","font":"Liberation Serif","fontSize":4.6,"fontWeight":"bold","color":"#111"},"encoding":{"text":{"field":"t"}}},
{"data":{"values":[
{"s":"Uniform LAA pattern at broadside direction.","a":[0,10,20,30,35,40,48,55,61,66,70.5,72,75,78,81,84,87,90,93,96,99,102,105,108,109.5,114,119,125,132,140,145,150,160,170,180,190,200,210,215,220,228,235,241,246,250.5,252,255,258,261,264,267,270,273,276,279,282,285,288,289.5,294,299,305,312,320,325,330,340,350,360],"r":[0,0.02,0.09,0.16,0.17,0.14,0,0.16,0.24,0.18,0,0.08,0.27,0.48,0.68,0.85,0.96,1,0.96,0.85,0.68,0.48,0.27,0.08,0,0.18,0.24,0.16,0,0.14,0.17,0.16,0.09,0.02,0,0.02,0.09,0.16,0.17,0.14,0,0.16,0.24,0.18,0,0.08,0.27,0.48,0.68,0.85,0.96,1,0.96,0.85,0.68,0.48,0.27,0.08,0,0.18,0.24,0.16,0,0.14,0.17,0.16,0.09,0.02,0]},
{"s":"Scanned LAA pattern using progressive phase shift at θs =44.31°","a":[0,8,16.4,18.6,25,31.4,37.9,44.3,50.7,57.2,63.6,70,72.2,85.8,102.9,123,150,180,210,237,257.1,274.2,287.8,290,296.4,302.8,309.3,315.7,322.1,328.6,335,341.4,343.6,352,360],"r":[0.19,0.1,0,0.08,0.38,0.68,0.91,1,0.91,0.68,0.38,0.08,0,0.22,0.02,0.16,0.08,0.19,0.08,0.16,0.02,0.22,0,0.08,0.38,0.68,0.91,1,0.91,0.68,0.38,0.08,0,0.1,0.19]},
{"s":"Synthesized array pattern using EPP at xs =2 λ.","a":[0,5,10.1,12.3,18.7,25.1,31.6,38,44.4,50.9,54,57,60,63,66,69,72,75,78,81,84,88,95,110,130,150,180,185,190.1,192.3,198.7,205.1,211.6,218,224.4,230.9,234,237,240,243,246,249,252,255,258,261,264,268,275,290,310,330,360],"r":[0.19,0.08,0,0.08,0.38,0.68,0.91,1,0.91,0.72,0.55,0.66,0.5,0.6,0.42,0.55,0.35,0.48,0.25,0.38,0.15,0.25,0.05,0.18,0.1,0.1,0.19,0.08,0,0.08,0.38,0.68,0.91,1,0.91,0.72,0.55,0.66,0.5,0.6,0.42,0.55,0.35,0.48,0.25,0.38,0.15,0.25,0.05,0.18,0.1,0.1,0.19]}
]},
"transform":[{"flatten":["a","r"]},{"calculate":"datum.r*cos(datum.a*PI/180)","as":"x"},{"calculate":"datum.r*sin(datum.a*PI/180)","as":"y"}],
"mark":{"type":"line","strokeWidth":0.9},
"encoding":{"order":{"field":"a","type":"quantitative"},
"color":{"field":"s","type":"nominal","scale":{"domain":["Uniform LAA pattern at broadside direction.","Scanned LAA pattern using progressive phase shift at θs =44.31°","Synthesized array pattern using EPP at xs =2 λ."],"range":["#3838e0","#c8743c","#2a1414"]},"legend":{"title":null}}}}
]}
],
"resolve":{"scale":{"color":"independent","strokeDash":"independent","x":"independent","y":"independent","radius":"independent"},"legend":{"color":"independent","strokeDash":"independent"}},
"config":{
"view":{"stroke":null},
"title":{"orient":"bottom","font":"Liberation Serif","fontSize":12,"fontWeight":"bold","offset":4,"color":"#000"},
"legend":{"orient":"none","legendX":-9,"legendY":100,"direction":"vertical","symbolType":"stroke","symbolSize":100,"symbolStrokeWidth":1,"labelFont":"Liberation Serif","labelFontSize":3.6,"labelFontWeight":"bold","labelColor":"#111","labelLimit":0,"rowPadding":0,"padding":2,"strokeColor":"#999","clipHeight":4.6,"labelOffset":2}
}
}
